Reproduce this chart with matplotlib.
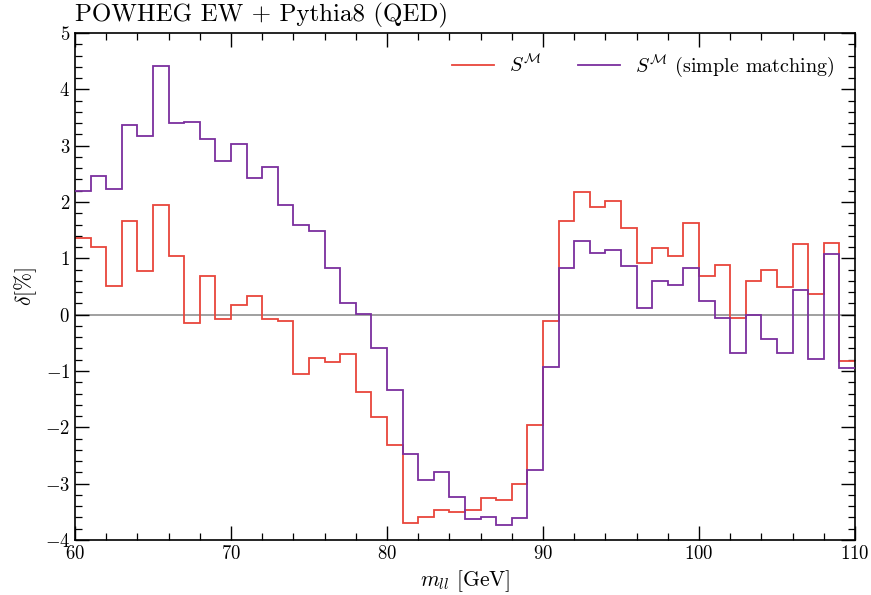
import numpy as np
import matplotlib
matplotlib.use('Agg')
import matplotlib.pyplot as plt
from matplotlib.ticker import MultipleLocator

plt.rcParams['font.family'] = 'serif'
plt.rcParams['font.serif'] = ['cmr10']
plt.rcParams['mathtext.fontset'] = 'cm'
plt.rcParams['axes.formatter.use_mathtext'] = True

# bin edges of m_ll [GeV]
bin_edges = np.arange(60, 111, 1)

# delta [%] per bin
s_m = [1.36, 1.21, 0.51, 1.67, 0.78, 1.95, 1.04, -0.15, 0.68, -0.08,
       0.18, 0.33, -0.08, -0.12, -1.06, -0.76, -0.84, -0.70, -1.38, -1.82,
       -2.32, -3.70, -3.59, -3.46, -3.51, -3.46, -3.25, -3.29, -3.00, -1.96,
       -0.11, 1.67, 2.18, 1.92, 2.02, 1.53, 0.92, 1.19, 1.04, 1.63,
       0.68, 0.88, -0.05, 0.59, 0.79, 0.50, 1.25, 0.37, 1.28, -0.82]

s_m_simple = [2.20, 2.47, 2.24, 3.37, 3.17, 4.41, 3.40, 3.42, 3.11, 2.73,
              3.03, 2.43, 2.63, 1.95, 1.59, 1.49, 0.83, 0.20, 0.02, -0.60,
              -1.33, -2.48, -2.93, -2.79, -3.24, -3.62, -3.60, -3.74, -3.61, -2.76,
              -0.92, 0.82, 1.30, 1.09, 1.14, 0.87, 0.11, 0.60, 0.53, 0.82,
              0.25, -0.05, -0.68, -0.01, -0.44, -0.68, 0.43, -0.79, 1.07, -0.95]

labels = [r'$S^{\mathcal{M}}$', r'$S^{\mathcal{M}}$ (simple matching)']
colors = ['#e8453c', '#7b2f9e']

fig = plt.figure(figsize=(8.71, 5.95), dpi=100)
ax = fig.add_axes([0.0861, 0.0924, 0.8955, 0.8521])

ax.axhline(0, color='#999999', lw=1.3, zorder=1)
ax.stairs(s_m, bin_edges, color=colors[0], lw=1.3, label=labels[0], baseline=None, zorder=2)
ax.stairs(s_m_simple, bin_edges, color=colors[1], lw=1.3, label=labels[1], baseline=None, zorder=3)

ax.set_xlim(60, 110)
ax.set_ylim(-4, 5)
ax.xaxis.set_major_locator(MultipleLocator(10))
ax.xaxis.set_minor_locator(MultipleLocator(2))
ax.yaxis.set_major_locator(MultipleLocator(1))
ax.yaxis.set_minor_locator(MultipleLocator(0.2))
ax.tick_params(which='both', direction='in', top=True, right=True, labelsize=13.5)
ax.tick_params(which='major', length=10, width=1.0)
ax.tick_params(which='minor', length=5, width=0.9)
for sp in ax.spines.values():
    sp.set_linewidth(1.2)

ax.set_xlabel(r'$m_{ll}$ [GeV]', fontsize=15.5)
ax.set_ylabel(r'$\delta[\%]$', fontsize=15.5)
ax.set_title('POWHEG EW + Pythia8 (QED)', loc='left', fontsize=18, pad=8)

ax.legend(loc='upper right', ncol=2, frameon=False, fontsize=14.5,
          handlelength=2.1, handletextpad=0.75, columnspacing=1.8,
          borderaxespad=0.6)

fig.savefig('out.png', dpi=100)
